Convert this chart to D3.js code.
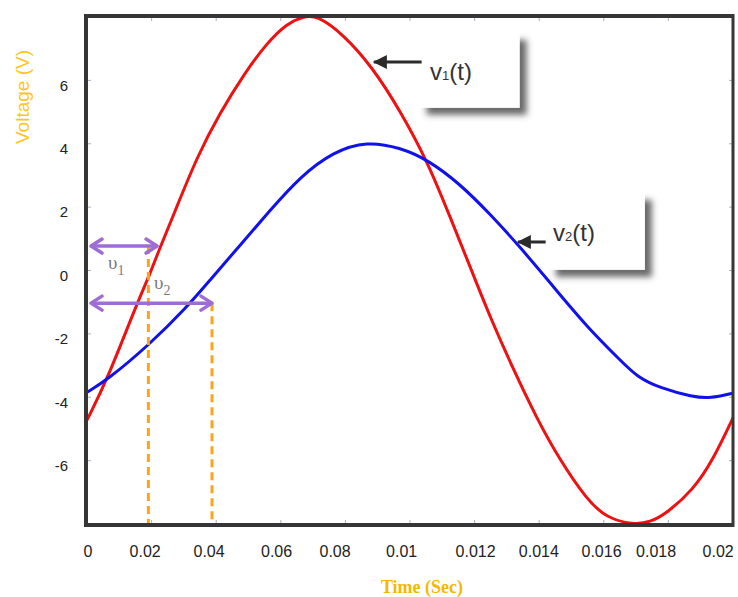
<!DOCTYPE html>
<html>
<head>
<meta charset="utf-8">
<script src="https://cdn.jsdelivr.net/npm/d3@7"></script>
<style>
  body { margin: 0; background: #fff; }
  svg { display: block; }
</style>
</head>
<body>
<div id="chart"></div>
<script>
// values (seconds, volts)
const v1Time = [0, 0.00062, 0.00155, 0.00195, 0.00223, 0.00269, 0.00341, 0.00412, 0.00486, 0.00557,
  0.00619, 0.00672, 0.00712, 0.00793, 0.00885, 0.00969, 0.01056, 0.01124, 0.01195, 0.01248,
  0.01319, 0.01393, 0.01464, 0.01548, 0.01610, 0.01690, 0.01743, 0.01796, 0.01876, 0.01938, 0.02]
const v1Volt = [-4.72, -3.46, -1.03, -0.11, 0.65, 1.78, 3.60, 4.98, 6.20, 7.18,
  7.80, 8.02, 8.05, 7.46, 6.40, 5.05, 3.40, 1.69, -0.11, -1.47,
  -3.10, -4.68, -5.98, -7.24, -7.82, -8.02, -7.95, -7.65, -6.93, -5.98, -4.65]

const v2Time = [0, 0.00062, 0.00192, 0.00310, 0.00381, 0.00474, 0.00567, 0.00659, 0.00762, 0.00867,
  0.00969, 0.01056, 0.01155, 0.01248, 0.01341, 0.01443, 0.01548, 0.01650, 0.01703, 0.01774,
  0.01876, 0.01929, 0.02]
const v2Volt = [-3.84, -3.46, -2.35, -1.15, -0.30, 0.80, 1.90, 2.95, 3.75, 4.08,
  3.88, 3.49, 2.73, 1.78, 0.74, -0.50, -1.78, -2.82, -3.36, -3.71,
  -3.99, -4.04, -3.87]

const yTicks = [-6, -4, -2, 0, 2, 4, 6]
const xTicks = d3.range(0, 0.0201, 0.002)
const xTickLabels = ['0', '0.02', '0.04', '0.06', '0.08', '0.01', '0.012', '0.014', '0.016', '0.018', '0.02']
const xLabelAt = [0.00003, 0.0018, 0.00378, 0.00587, 0.00768, 0.00974, 0.01203, 0.01399, 0.01593, 0.01762, 0.01954]

// phase markers: arrow level (V) and end time (s)
const thetaNames = ['1', '2']
const thetaLevel = [0.77, -1.03]
const thetaEnd = [0.00217, 0.00387]
const thetaDash = [0.0019, 0.00387]

const width = 738, height = 597
const margin = { top: 17, right: 5, bottom: 73, left: 87 }

const x = d3.scaleLinear().domain([0, 0.02]).range([margin.left, width - margin.right])
const y = d3.scaleLinear().domain([-8, 8]).range([height - margin.bottom, margin.top])

const svg = d3.select('#chart').append('svg')
  .attr('width', width)
  .attr('height', height)

let defs = svg.append('defs')
defs.append('filter').attr('id', 'shadow')
  .attr('x', '-20%').attr('y', '-20%').attr('width', '150%').attr('height', '150%')
  .append('feDropShadow')
  .attr('dx', 7).attr('dy', 7)
  .attr('stdDeviation', 3)
  .attr('flood-color', '#444')
  .attr('flood-opacity', 0.8)

let clip = defs.append('clipPath').attr('id', 'plot-area')
clip.append('rect')
  .attr('x', margin.left).attr('y', margin.top)
  .attr('width', width - margin.left - margin.right)
  .attr('height', height - margin.top - margin.bottom)

let arrowHead = (id, color, open) => {
  let m = defs.append('marker')
    .attr('id', id)
    .attr('viewBox', '-2 -9 16 18')
    .attr('refX', 12).attr('refY', 0)
    .attr('markerWidth', 16).attr('markerHeight', 18)
    .attr('markerUnits', 'userSpaceOnUse')
    .attr('orient', 'auto-start-reverse')
  if (open) {
    m.append('path').attr('d', 'M1,-7L12,0L1,7')
      .attr('fill', 'none').attr('stroke', color).attr('stroke-width', 3.5)
      .attr('stroke-linecap', 'round').attr('stroke-linejoin', 'round')
  } else {
    m.append('path').attr('d', 'M-1,-7L13,0L-1,7Z').attr('fill', color)
  }
}
arrowHead('purple', '#9d6cd4', true)
arrowHead('black', '#2b2b2b', false)

// small ticks inside the frame
let tickColor = '#aab0c4'
svg.append('g').selectAll('line.yt').data(yTicks).join('line')
  .attr('x1', x(0)).attr('x2', x(0) + 4)
  .attr('y1', d => y(d)).attr('y2', d => y(d))
  .attr('stroke', tickColor)
svg.append('g').selectAll('line.yr').data(yTicks).join('line')
  .attr('x1', x(0.02) - 4).attr('x2', x(0.02))
  .attr('y1', d => y(d)).attr('y2', d => y(d))
  .attr('stroke', tickColor)
svg.append('g').selectAll('line.xb').data(xTicks).join('line')
  .attr('x1', d => x(d)).attr('x2', d => x(d))
  .attr('y1', y(-8) - 4).attr('y2', y(-8))
  .attr('stroke', tickColor)
svg.append('g').selectAll('line.xt').data(xTicks).join('line')
  .attr('x1', d => x(d)).attr('x2', d => x(d))
  .attr('y1', y(8)).attr('y2', y(8) + 4)
  .attr('stroke', tickColor)

// y labels
svg.append('g').selectAll('text').data(yTicks).join('text')
  .attr('x', 68)
  .attr('y', d => y(d) + 5)
  .attr('dy', '0.35em')
  .attr('text-anchor', 'end')
  .attr('font-family', 'Arial, "Liberation Sans", sans-serif')
  .attr('font-size', '15px')
  .attr('fill', '#222')
  .text(d => d)

// x labels
svg.append('g').selectAll('text').data(xTickLabels).join('text')
  .attr('x', (d, i) => x(xLabelAt[i]))
  .attr('y', 557)
  .attr('text-anchor', 'middle')
  .attr('font-family', 'Arial, "Liberation Sans", sans-serif')
  .attr('font-size', '16px')
  .attr('fill', '#222')
  .text(d => d)

svg.append('text')
  .attr('x', 422).attr('y', 593)
  .attr('text-anchor', 'middle')
  .attr('font-family', '"Liberation Serif", serif')
  .attr('font-weight', 'bold')
  .attr('font-size', '18px')
  .attr('fill', '#f5b800')
  .text('Time (Sec)')

svg.append('text')
  .attr('transform', 'translate(29, 97) rotate(-90)')
  .attr('text-anchor', 'middle')
  .attr('font-family', 'Arial, "Liberation Sans", sans-serif')
  .attr('font-size', '19px')
  .attr('fill', '#ffc61a')
  .text('Voltage (V)')

// curves
let line = d3.line()
  .x(d => x(d[0]))
  .y(d => y(d[1]))
  .curve(d3.curveBasis)

let plot = svg.append('g').attr('clip-path', 'url(#plot-area)')
plot.append('path')
  .datum(v1Time.map((t, i) => [t, v1Volt[i]]))
  .attr('d', line)
  .attr('fill', 'none')
  .attr('stroke', '#ee1111')
  .attr('stroke-width', 3)
plot.append('path')
  .datum(v2Time.map((t, i) => [t, v2Volt[i]]))
  .attr('d', line)
  .attr('fill', 'none')
  .attr('stroke', '#1111ee')
  .attr('stroke-width', 3)

// phase markers
let theta = svg.append('g')
theta.selectAll('line.dash').data(thetaNames).join('line')
  .attr('x1', (d, i) => x(thetaDash[i])).attr('x2', (d, i) => x(thetaDash[i]))
  .attr('y1', (d, i) => y(thetaLevel[i])).attr('y2', y(-8))
  .attr('stroke', '#ffa31a')
  .attr('stroke-width', 3)
  .attr('stroke-dasharray', '8,5')
theta.selectAll('line.arr').data(thetaNames).join('line')
  .attr('x1', x(0) + 4).attr('x2', (d, i) => x(thetaEnd[i]))
  .attr('y1', (d, i) => y(thetaLevel[i])).attr('y2', (d, i) => y(thetaLevel[i]))
  .attr('stroke', '#9d6cd4')
  .attr('stroke-width', 3.5)
  .attr('marker-start', 'url(#purple)')
  .attr('marker-end', 'url(#purple)')

let thetaLabel = theta.selectAll('text').data(thetaNames).join('text')
  .attr('x', (d, i) => i === 0 ? 108 : 154)
  .attr('y', (d, i) => i === 0 ? 269 : 289)
  .attr('font-family', '"Liberation Serif", serif')
  .attr('font-size', '19px')
  .attr('fill', '#7a7a7a')
thetaLabel.append('tspan').text('υ')
thetaLabel.append('tspan').attr('dy', 6).attr('font-size', '14px').text(d => d)

// callouts
let callout = (x0, y0, w, h, tip, tail, sub, tx, ty) => {
  svg.append('rect')
    .attr('x', x0).attr('y', y0)
    .attr('width', w).attr('height', h)
    .attr('fill', '#fff')
    .attr('filter', 'url(#shadow)')
  svg.append('line')
    .attr('x1', tail[0]).attr('y1', tail[1])
    .attr('x2', tip[0]).attr('y2', tip[1])
    .attr('stroke', '#2b2b2b')
    .attr('stroke-width', 3)
    .attr('marker-end', 'url(#black)')
  let t = svg.append('text')
    .attr('x', tx).attr('y', ty)
    .attr('font-family', 'Arial, "Liberation Sans", sans-serif')
    .attr('font-size', '24px')
    .attr('fill', '#333')
  t.append('tspan').text('v')
  t.append('tspan').attr('font-size', '13px').text(sub)
  t.append('tspan').text('(t)')
}
callout(x(0.0103), y(7.5), 100, 75, [x(0.00885) + 1, y(6.58)], [x(0.01036), y(6.58)], '1', 430, 80)
callout(x(0.0143), y(2.45), 96, 77, [x(0.01334), y(0.9)], [x(0.0142), y(0.9)], '2', 553, 241)

// frame
let frame = svg.append('g').attr('stroke', '#363636')
frame.append('line').attr('x1', x(0) - 2).attr('x2', x(0.02) + 1).attr('y1', y(8) - 1).attr('y2', y(8) - 1).attr('stroke-width', 4)
frame.append('line').attr('x1', x(0) - 2).attr('x2', x(0.02) + 1).attr('y1', y(-8) + 1).attr('y2', y(-8) + 1).attr('stroke-width', 4)
frame.append('line').attr('x1', x(0) - 1).attr('x2', x(0) - 1).attr('y1', y(8) - 3).attr('y2', y(-8) + 3).attr('stroke-width', 4)
frame.append('line').attr('x1', x(0.02)).attr('x2', x(0.02)).attr('y1', y(8) - 3).attr('y2', y(-8) + 3).attr('stroke-width', 3)
</script>
</body>
</html>
